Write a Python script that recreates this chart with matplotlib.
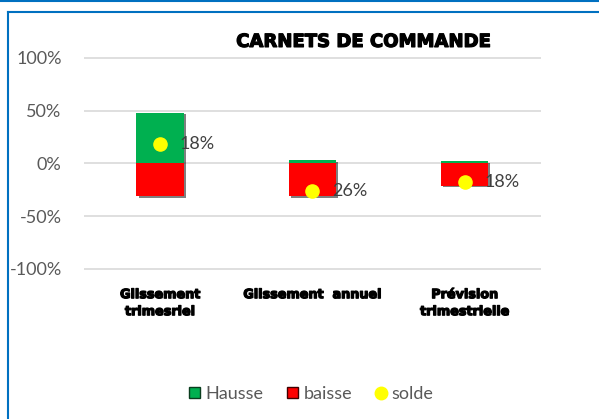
import matplotlib.pyplot as plt
import matplotlib.patheffects as pe
from matplotlib.lines import Line2D
from matplotlib.patches import Patch

# data
categories = ["Glissement\ntrimesriel", "Glissement  annuel", "Prévision\ntrimestrielle"]
hausse = [0.48, 0.03, 0.02]
baisse = [-0.31, -0.31, -0.21]
solde = [0.18, -0.26, -0.18]
solde_labels = ["18%", "26%", "18%"]
yticks = [-1.0, -0.5, 0.0, 0.5, 1.0]
ytick_labels = ["-100%", "-50%", "0%", "50%", "100%"]

green = "#00B050"
red = "#FF0000"
yellow = "#FFFF00"
blue = "#0070C0"

plt.rcParams['font.family'] = ['Lato', 'DejaVu Sans']

fig = plt.figure(figsize=(5.99, 4.19), dpi=100)
ax = fig.add_axes([0.140, 0.3454, 0.763, 0.529])

x = list(range(len(categories)))
shadow = [pe.SimplePatchShadow(offset=(1.5, -1), shadow_rgbFace="black", alpha=0.5), pe.Normal()]
b1 = ax.bar(x, hausse, width=0.31, color=green, zorder=3)
b2 = ax.bar(x, baisse, width=0.31, color=red, zorder=3)
for b in list(b1) + list(b2):
    b.set_path_effects(shadow)
ax.scatter(x, solde, s=90, color=yellow, zorder=5)
for xi, yi, lab in zip(x, solde, solde_labels):
    ax.annotate(lab, (xi, yi), xytext=(14, 0), textcoords="offset points",
                va="center", ha="left", fontsize=13, color="#404040", zorder=6)

# heavy black look for title and category names
heavy = [pe.withStroke(linewidth=0.9, foreground="black")]

ax.set_xlim(-0.5, 2.5)
ax.set_ylim(-1.05, 1.05)
ax.set_yticks(yticks)
ax.set_yticklabels(ytick_labels, fontsize=13, color="#595959")
ax.set_xticks(x)
ax.set_xticklabels(categories, fontsize=9.2, fontweight="bold", color="black",
                   family="DejaVu Sans", linespacing=1.4, va="top")
for t in ax.get_xticklabels():
    t.set_path_effects(heavy)
ax.tick_params(length=0)
ax.tick_params(axis="y", pad=16)
ax.tick_params(axis="x", pad=10)
ax.grid(axis="y", color="#D9D9D9", linewidth=1.2, zorder=0)
for s in ax.spines.values():
    s.set_visible(False)

fig.text(0.606, 0.900, "CARNETS DE COMMANDE", ha="center", va="center",
         fontsize=13, fontweight="bold", family="DejaVu Sans", color="black",
         path_effects=heavy)

handles = [Patch(facecolor=green, edgecolor="#0a3d1e"),
           Patch(facecolor=red, edgecolor="#400000"),
           Line2D([], [], marker="o", linestyle="", markersize=9,
                  markerfacecolor=yellow, markeredgecolor=yellow)]
fig.legend(handles, ["Hausse", "baisse", "solde"], loc="center",
           bbox_to_anchor=(0.52, 0.06), ncol=3, frameon=False, fontsize=13,
           labelcolor="#595959", handlelength=0.6, handleheight=0.6,
           handletextpad=0.3, columnspacing=1.3)

# frame lines around the chart
fig.add_artist(Line2D([0, 1], [0.997, 0.997], color=blue, linewidth=1.5))
fig.add_artist(Line2D([0.0135, 1], [0.972, 0.972], color=blue, linewidth=1.5))
fig.add_artist(Line2D([0.0135, 0.0135], [0, 0.972], color=blue, linewidth=1.5))

fig.savefig("out.png", dpi=100)
